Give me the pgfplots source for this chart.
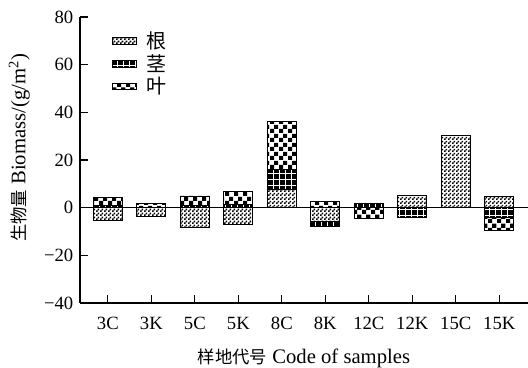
\documentclass[border=0pt]{standalone}
\usepackage{fontspec}
\setmainfont{Liberation Serif}
\newfontfamily\cjk{Noto Sans CJK SC}
\usepackage{pgfplots}
\usepackage{pgfplotstable}
\pgfplotsset{compat=1.18}
\usetikzlibrary{patterns}

\pgfdeclarepatternformonly{finecheck}{\pgfpointorigin}{\pgfqpoint{3pt}{3pt}}{\pgfqpoint{3pt}{3pt}}{%
  \pgfpathrectangle{\pgfpointorigin}{\pgfqpoint{1.5pt}{1.5pt}}%
  \pgfpathrectangle{\pgfqpoint{1.5pt}{1.5pt}}{\pgfqpoint{1.5pt}{1.5pt}}%
  \pgfusepath{fill}}
\pgfdeclarepatternformonly{bigcheck}{\pgfpointorigin}{\pgfqpoint{6.8pt}{6.8pt}}{\pgfqpoint{6.8pt}{6.8pt}}{%
  \pgfpathrectangle{\pgfpointorigin}{\pgfqpoint{3.4pt}{3.4pt}}%
  \pgfpathrectangle{\pgfqpoint{3.4pt}{3.4pt}}{\pgfqpoint{3.4pt}{3.4pt}}%
  \pgfusepath{fill}}
\pgfdeclarepatternformonly{stemgrid}{\pgfqpoint{-0.5pt}{-0.5pt}}{\pgfqpoint{5pt}{5pt}}{\pgfqpoint{4.5pt}{4.5pt}}{%
  \pgfsetlinewidth{0.6pt}%
  \pgfpathmoveto{\pgfqpoint{2.25pt}{0pt}}\pgfpathlineto{\pgfqpoint{2.25pt}{4.5pt}}%
  \pgfpathmoveto{\pgfqpoint{0pt}{2.25pt}}\pgfpathlineto{\pgfqpoint{4.5pt}{2.25pt}}%
  \pgfusepath{stroke}}

\tikzset{
  rootbar/.style={draw=black, line width=0.7pt, pattern=finecheck, pattern color=black},
  stembar/.style={draw=black, line width=0.7pt, fill=black, postaction={pattern=stemgrid, pattern color=white}},
  leafbar/.style={draw=black, line width=0.7pt, pattern=bigcheck, pattern color=black},
}

% positive parts (g/m^2)
\pgfplotstableread{
x root stem leaf
0 0 0.9 3.4
1 0 0 1.7
2 0 0.8 4.1
3 0 1.4 5.4
4 7.8 8.4 19.9
5 0 0 2.4
6 0 1.7 0
7 5.0 0 0
8 30.1 0 0
9 4.7 0 0
}\posdata
% negative parts (g/m^2)
\pgfplotstableread{
x root stem leaf
0 -5.5 0 0
1 -3.9 0 0
2 -8.5 0 0
3 -7.0 0 0
4 0 0 0
5 -5.7 -2.3 0
6 0 0 -4.5
7 0 -4.3 0
8 0 0 0
9 0 -4.0 -5.5
}\negdata

\pgfplotsset{
  common/.style={
    scale only axis, width=336pt, height=214.5pt,
    xmin=-0.64, xmax=9.66, ymin=-40, ymax=80,
    ybar stacked, bar width=21.75pt,
  }
}

\begin{document}
\begin{tikzpicture}
\begin{axis}[
  common,
  axis x line=bottom, axis y line=left,
  axis line style={-, line width=0.8pt},
  xtick={0,...,9}, xticklabels={3C,3K,5C,5K,8C,8K,12C,12K,15C,15K},
  ytick={-40,-20,...,80}, yticklabels={−40,−20,0,20,40,60,80},
  tick align=inside, major tick length=6pt,
  tick style={black, line width=0.8pt},
  ticklabel style={font=\fontsize{14}{16}\selectfont},
  xticklabel style={yshift=-7pt},
  yticklabel style={xshift=-1.5pt},
  xlabel={{\cjk\fontsize{13}{15}\selectfont 样地代号} Code of samples},
  ylabel={{\cjk\fontsize{13}{15}\selectfont 生物量} Biomass/(g/m\textsuperscript{2})},
  label style={font=\fontsize{15.5}{18}\selectfont},
  xlabel style={at={([yshift=-41.5pt]rel axis cs:0.5,0)}, anchor=center},
  ylabel style={at={([xshift=-45.5pt]rel axis cs:0,0.542)}, anchor=center},
  legend style={draw=none, fill=none, at={(0.062,0.968)}, anchor=north west,
    font=\cjk\fontsize{15}{17}\selectfont, row sep=-1pt, column sep=5pt},
  legend cell align=left,
  legend image code/.code={\draw[#1] (0pt,-2.4pt) rectangle (18pt,2.4pt);},
]
\addlegendimage{rootbar}\addlegendentry{根}
\addlegendimage{stembar}\addlegendentry{茎}
\addlegendimage{leafbar}\addlegendentry{叶}
\addplot[rootbar, forget plot] table[x=x, y=root] {\posdata};
\addplot[stembar, forget plot] table[x=x, y=stem] {\posdata};
\addplot[leafbar, forget plot] table[x=x, y=leaf] {\posdata};
\coordinate (bl) at (rel axis cs:0,0);
\coordinate (tr) at (rel axis cs:1,1);
\end{axis}
\begin{axis}[common, hide axis]
\addplot[rootbar] table[x=x, y=root] {\negdata};
\addplot[stembar] table[x=x, y=stem] {\negdata};
\addplot[leafbar] table[x=x, y=leaf] {\negdata};
\draw[line width=0.8pt] (axis cs:-0.64,0) -- (axis cs:9.66,0);
\end{axis}
\pgfresetboundingbox
\path ([shift={(-60pt,-48.75pt)}]bl) rectangle ([shift={(0pt,12.75pt)}]tr);
\end{tikzpicture}
\end{document}
